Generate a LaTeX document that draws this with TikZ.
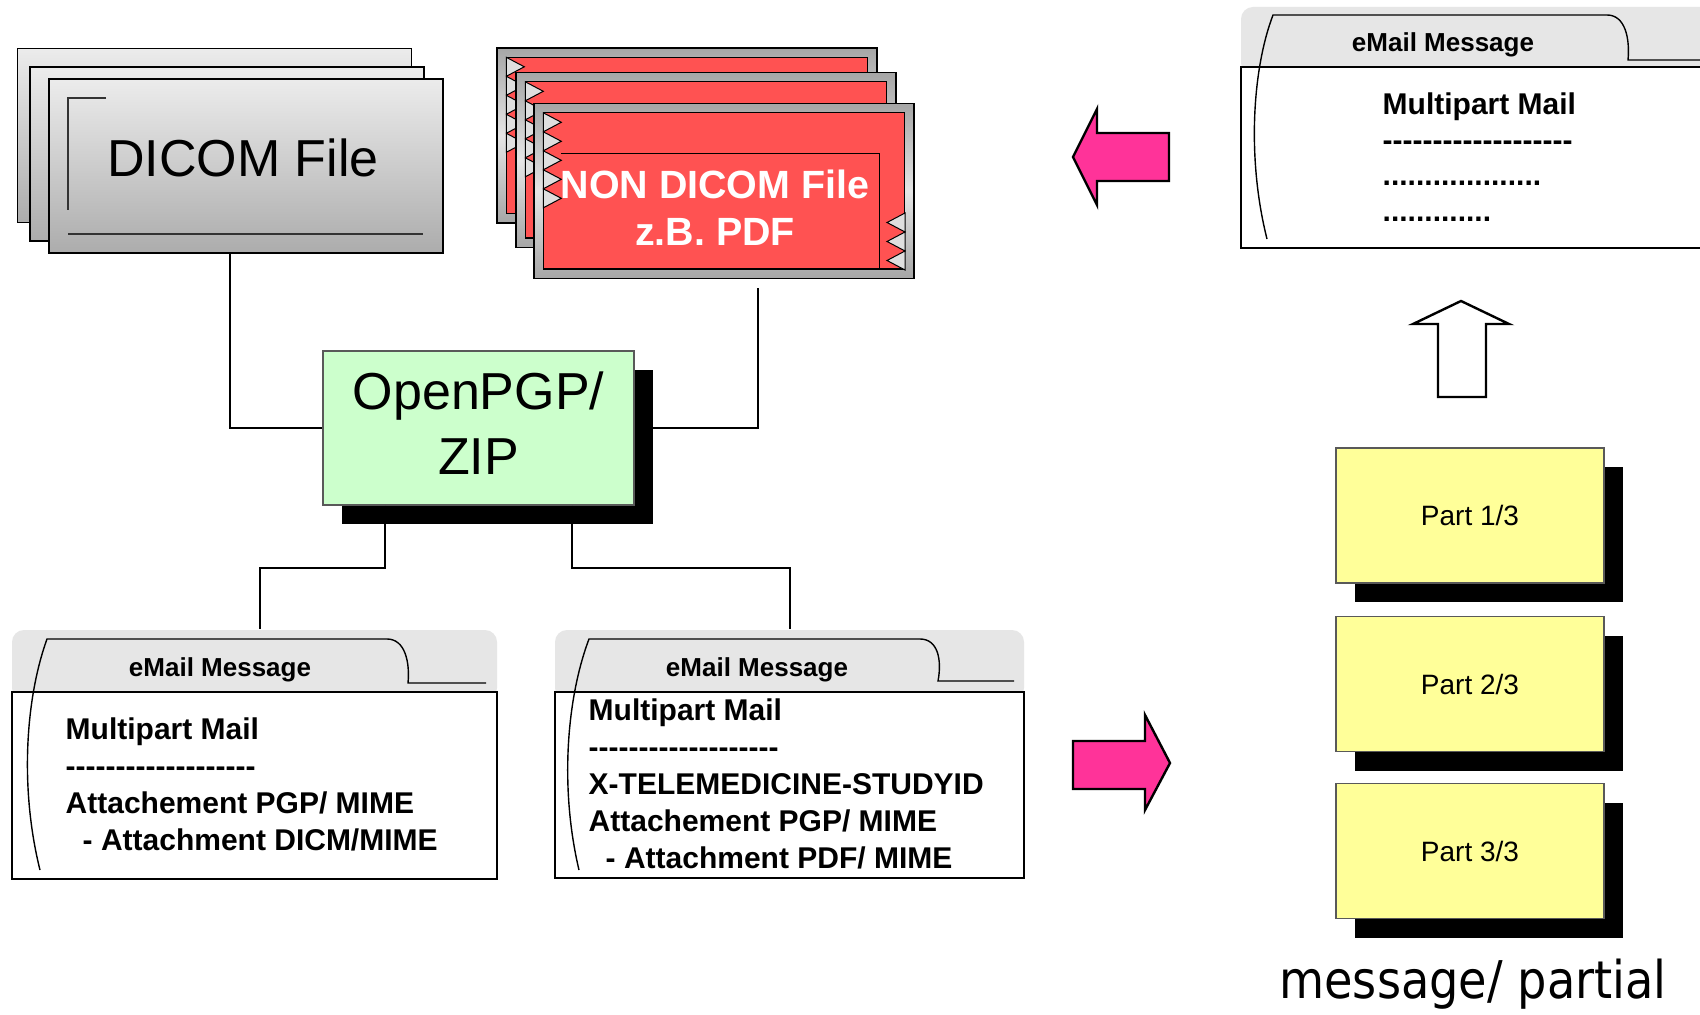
\documentclass[tikz,border=0pt]{standalone}
\usepackage{graphicx}
\usepackage{fontspec}
\setmainfont{Liberation Sans}
\newfontfamily\partialfont{DejaVu Sans}
\usetikzlibrary{calc,shadows}

\definecolor{pgpgreen}{RGB}{204,255,204}
\definecolor{partyellow}{RGB}{255,255,153}
\definecolor{pdfred}{RGB}{255,82,82}
\definecolor{arrowpink}{RGB}{255,51,153}
\definecolor{headgray}{RGB}{230,230,230}

\tikzstyle{sheet} = [draw, top color=gray!15, bottom color=gray!65,
    minimum width=197pt, minimum height=87pt, inner sep=0pt]
\tikzstyle{frame} = [draw, top color=gray!70, bottom color=gray!70, middle color=gray!20,
    minimum width=190pt, minimum height=87.5pt, inner sep=0pt]
\tikzstyle{tri} = [draw, fill=gray!25, line width=0.5pt]
\tikzstyle{shadowbox} = [draw=gray!70!black, inner sep=0pt,
    drop shadow={shadow xshift=9.5pt, shadow yshift=-9.5pt, fill=black, opacity=1}]
\tikzstyle{part} = [shadowbox, fill=partyellow, minimum width=134pt, minimum height=67.5pt,
    font=\fontsize{14}{17}\selectfont]
\tikzstyle{mailhead} = [fill=headgray, rounded corners=6pt, inner sep=0pt]
\tikzstyle{mailbody} = [draw, fill=white, inner sep=0pt]
\tikzstyle{mailtitle} = [font=\bfseries\fontsize{13}{16}\selectfont]
\tikzstyle{mailtext} = [align=left, anchor=west, inner sep=0pt,
    font=\bfseries\fontsize{15}{18.5}\selectfont]
\tikzstyle{link} = [draw, line width=1pt]
\tikzstyle{blockarrow} = [draw, line width=1.2pt, line join=miter]

\newcommand\dashrow{\foreach \i in {1,...,19}{\mbox{-}}}
\newcommand\dotrow[1]{\foreach \i in {1,...,#1}{.}}

\begin{document}
\begin{tikzpicture}[x=0.5pt, y=-0.5pt, line width=0.7pt]
    \clip (0,0) rectangle (1700,1015);
    \fill [white] (0,0) rectangle (1700,1015);

    % DICOM file stack
    \foreach \n/\x/\y in {dc3/214.5/135.5, dc2/227/154, dicom/246/166}
        \node [sheet] (\n) at (\x,\y) {};
    \draw [gray!40!black] (106,98) -- (68,98) -- (68,210);
    \draw [gray!40!black] (68,234) -- (423,234);
    \node [font=\fontsize{26}{31}\selectfont] at (243,158) {DICOM File};

    % non DICOM file stack
    \foreach \n/\x/\y in {nd3/687/135.5, nd2/706/160, nondicom/724/191} {
        \node [frame] (\n) at (\x,\y) {};
        \draw [fill=pdfred] ($(\n.north west)+(10,10)$) rectangle ($(\n.south east)+(-10,-10)$);
        \foreach \k in {0,...,4}
            \draw [tri] ($(\n.north west)+(10,10+19*\k)$) -- ++(18,9.5) -- ++(-18,9.5) -- cycle;
    }
    \draw [line width=0.5pt] (561,154) -- (879,154) -- (879,269);
    \foreach \k in {0,1,2}
        \draw [tri] (905,213+19*\k) -- ++(-18,9.5) -- ++(18,9.5) -- cycle;
    \node [font=\bfseries\fontsize{19.7}{23.5}\selectfont, text=white, align=center]
        at (715,208) {NON DICOM File\\z.B. PDF};

    % encryption
    \node [shadowbox, fill=pgpgreen, minimum width=155.5pt, minimum height=77pt, text depth=5pt,
        align=center, font=\fontsize{26}{32.5}\selectfont] (pgp) at (478.5,428) {OpenPGP/\\ZIP};

    % mail with DICOM attachment
    \node [mailhead, minimum width=242.5pt, minimum height=35pt] (mail1head) at (254.5,665) {};
    \node [mailbody, minimum width=242.5pt, minimum height=93.5pt] (mail1) at (254.5,785.5) {};
    \draw (40,870) .. controls (20,790) and (25,700) .. (47,639) -- (387,639)
        .. controls (405,639) and (410,662) .. (408,683) -- (486,683);
    \node [mailtitle] at (220,670) {eMail Message};
    \node [mailtext] at (65,784) {Multipart Mail\\\dashrow\\Attachement PGP/ MIME\\
        \hspace*{8.5pt}- Attachment DICM/MIME};

    % mail with PDF attachment
    \node [mailhead, minimum width=234.5pt, minimum height=35pt] (mail2head) at (789.5,665) {};
    \node [mailbody, minimum width=234.5pt, minimum height=93pt] (mail2) at (789.5,785) {};
    \draw (579,870) .. controls (560,790) and (566,700) .. (589,639) -- (920,639)
        .. controls (938,639) and (942,660) .. (938,681) -- (1014,681);
    \node [mailtitle] at (757,670) {eMail Message};
    \node [mailtext] at (588,784) {Multipart Mail\\\dashrow\\X-TELEMEDICINE-STUDYID\\
        Attachement PGP/ MIME\\\hspace*{8.5pt}- Attachment PDF/ MIME};

    \draw [link] ([xshift=-8pt]dicom.south) |- (pgp.west);
    \draw [link] ([xshift=17pt, yshift=-4.5pt]nondicom.south) |- (pgp.east);
    \draw [link] ([xshift=-46.75pt]pgp.south) -- ++(0,62) -| ([xshift=2.75pt]mail1head.north);
    \draw [link] ([xshift=46.75pt]pgp.south) -- ++(0,62) -| (mail2head.north);

    % received mail
    \node [mailhead, minimum width=239.5pt, minimum height=34pt] (mail3head) at (1480.5,41) {};
    \node [mailbody, minimum width=239.5pt, minimum height=90.5pt] (mail3) at (1480.5,157.5) {};
    \draw (1267,239) .. controls (1247,160) and (1252,70) .. (1273,15) -- (1607,15)
        .. controls (1625,15) and (1630,38) .. (1628,60) -- (1720,60);
    \node [mailtitle] at (1443,45) {eMail Message};
    \node [mailtext, font=\bfseries\fontsize{15}{17.8}\selectfont] at (1382,157)
        {Multipart Mail\\\dashrow\\\dotrow{19}\\\dotrow{13}};

    % partial messages
    \node [part] (part1) at (1470,515.5) {Part 1/3};
    \node [part] (part2) at (1470,684) {Part 2/3};
    \node [part] (part3) at (1470,851) {Part 3/3};
    \node [font=\partialfont\fontsize{26}{31}\selectfont] (partial) at (1473,984)
        {\scalebox{0.89}[1]{message/ partial}};

    % block arrows
    \draw [blockarrow, fill=arrowpink] (1073,157) -- (1097,109) -- (1097,133) -- (1169,133)
        -- (1169,181) -- (1097,181) -- (1097,205) -- cycle;
    \draw [blockarrow, fill=arrowpink] (1170,763) -- (1145,715) -- (1145,741) -- (1073,741)
        -- (1073,789) -- (1145,789) -- (1145,810) -- cycle;
    \draw [blockarrow, fill=white] (1461,301) -- (1509,324) -- (1486,324) -- (1486,397)
        -- (1438,397) -- (1438,324) -- (1413,324) -- cycle;
\end{tikzpicture}
\end{document}
